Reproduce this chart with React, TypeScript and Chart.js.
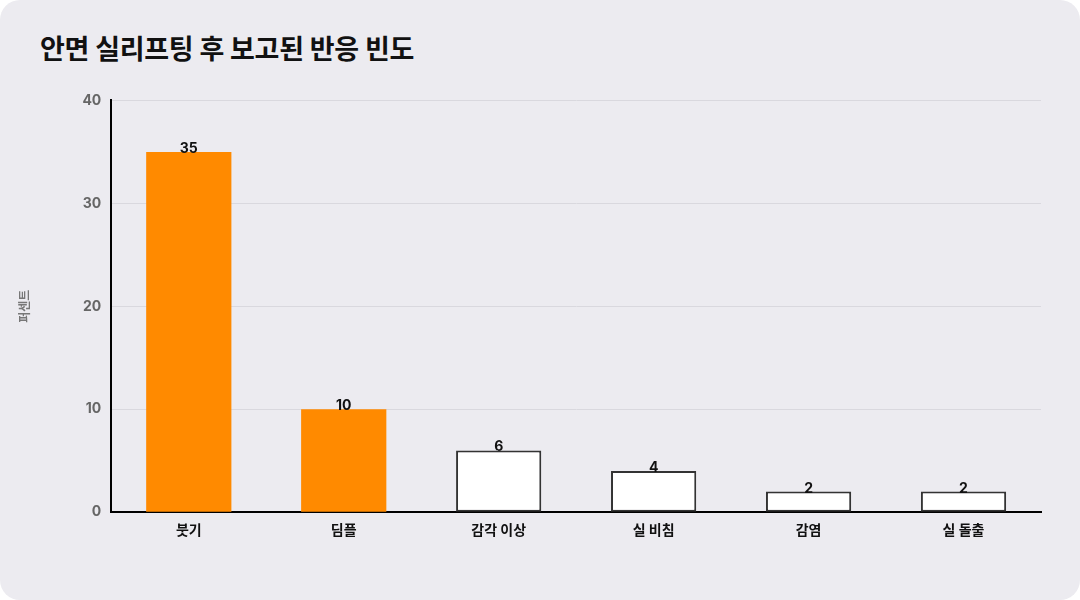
import { useEffect, useRef } from 'react';
import { Chart, registerables } from 'chart.js';
import type { Plugin } from 'chart.js';

Chart.register(...registerables);

const categories = ['붓기', '딤플', '감각 이상', '실 비침', '감염', '실 돌출'];
const percentValues = [35, 10, 6, 4, 2, 2];
const barColors = ['#FF8A00', '#FF8A00', '#FFFFFF', '#FFFFFF', '#FFFFFF', '#FFFFFF'];
const barBorderWidths = [0, 0, 2, 2, 2, 2];
const yTicks = [0, 10, 20, 30, 40];

const FONT = "Inter, 'Noto Sans CJK KR', sans-serif";

// 막대 위에 값 표시
const valueLabels: Plugin<'bar'> = {
	id: 'valueLabels',
	afterDatasetsDraw(chart) {
		const ctx = chart.ctx;
		const meta = chart.getDatasetMeta(0);
		ctx.save();
		ctx.font = `700 14px ${FONT}`;
		ctx.fillStyle = '#111111';
		ctx.textAlign = 'center';
		ctx.textBaseline = 'alphabetic';
		meta.data.forEach((bar, i) => {
			ctx.fillText(String(percentValues[i]), bar.x, bar.y + 1);
		});
		ctx.restore();
	},
};

function ReactionChart() {
	const chartRef = useRef<HTMLCanvasElement | null>(null);

	useEffect(() => {
		document.body.style.margin = '0';
		if (!chartRef.current) return;

		const chart = new Chart(chartRef.current, {
			type: 'bar',
			data: {
				labels: categories,
				datasets: [
					{
						label: '퍼센트',
						data: percentValues,
						backgroundColor: barColors,
						borderColor: '#333333',
						borderWidth: barBorderWidths,
						borderSkipped: false,
						categoryPercentage: 1,
						barPercentage: 0.55,
					},
				],
			},
			options: {
				responsive: true,
				maintainAspectRatio: false,
				animation: false,
				layout: { padding: { left: 14, right: 39, top: 6, bottom: 7 } },
				plugins: {
					legend: { display: false },
					tooltip: { enabled: false },
				},
				scales: {
					x: {
						grid: { display: false, drawTicks: false },
						border: { color: '#000000', width: 2 },
						ticks: {
							color: '#111111',
							padding: 10,
							font: { family: FONT, size: 14, weight: 700 },
						},
					},
					y: {
						min: 0,
						max: 40,
						afterBuildTicks: (axis) => {
							axis.ticks = yTicks.map((v) => ({ value: v }));
						},
						grid: { color: '#D9D8DE', lineWidth: 1, drawTicks: false },
						border: { color: '#000000', width: 2 },
						ticks: {
							color: '#666666',
							padding: 10,
							font: { family: FONT, size: 14, weight: 700 },
						},
						title: {
							display: true,
							text: '퍼센트',
							color: '#777777',
							padding: { bottom: 40 },
							font: { family: FONT, size: 12, weight: 700 },
						},
					},
				},
			},
			plugins: [valueLabels],
		});

		return () => {
			chart.destroy();
		};
	}, []);

	return (
		<div
			style={{
				position: 'relative',
				width: 1080,
				height: 600,
				background: '#ECEBF0',
				borderRadius: 20,
				overflow: 'hidden',
				fontFamily: FONT,
			}}
		>
			<div
				style={{
					position: 'absolute',
					left: 40,
					top: 28,
					fontSize: 27,
					fontWeight: 700,
					color: '#111111',
					letterSpacing: -0.3,
				}}
			>
				안면 실리프팅 후 보고된 반응 빈도
			</div>
			<div style={{ position: 'absolute', left: 0, top: 82, width: 1080, height: 474 }}>
				<canvas ref={chartRef}></canvas>
			</div>
		</div>
	);
}

export default function App() {
	return <ReactionChart />;
}
